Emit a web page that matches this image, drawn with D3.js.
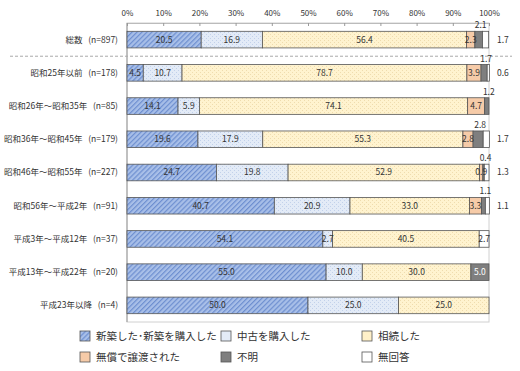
<!DOCTYPE html>
<html>
<head>
<meta charset="utf-8">
<script src="https://d3js.org/d3.v7.min.js"></script>
<style>
body { margin: 0; background: #fff; }
text { font-family: "Noto Sans CJK JP", "Noto Sans", sans-serif; fill: #333; }
</style>
</head>
<body>
<div id="chart"></div>
<script>
// categories and sample sizes
var categories = ["総数", "昭和25年以前", "昭和26年～昭和35年", "昭和36年～昭和45年", "昭和46年～昭和55年",
	"昭和56年～平成2年", "平成3年～平成12年", "平成13年～平成22年", "平成23年以降"];
var sampleN = [897, 178, 85, 179, 227, 91, 37, 20, 4];

var seriesNames = ["新築した･新築を購入した", "中古を購入した", "相続した", "無償で譲渡された", "不明", "無回答"];

// percentages, one array per series (same order as categories)
var shinchiku = [20.5, 4.5, 14.1, 19.6, 24.7, 40.7, 54.1, 55.0, 50.0];
var chuko     = [16.9, 10.7, 5.9, 17.9, 19.8, 20.9, 2.7, 10.0, 25.0];
var souzoku   = [56.4, 78.7, 74.1, 55.3, 52.9, 33.0, 40.5, 30.0, 25.0];
var musyou    = [2.3, 3.9, 4.7, 2.8, 0.9, 3.3, 0, 0, 0];
var fumei     = [2.1, 1.7, 1.2, 2.8, 0.4, 1.1, 0, 5.0, 0];
var mukaitou  = [1.7, 0.6, 0, 1.7, 1.3, 1.1, 2.7, 0, 0];

var ticks = [0, 10, 20, 30, 40, 50, 60, 70, 80, 90, 100];

var series = [shinchiku, chuko, souzoku, musyou, fumei, mukaitou];

var w = 520, h = 371;
var plotL = 127, plotR = 489, plotT = 23, plotB = 322;

var svg = d3.select("#chart").append("svg")
	.attr("width", w)
	.attr("height", h);

// patterns
var defs = svg.append("defs");
var hatch = defs.append("pattern").attr("id", "hatch")
	.attr("patternUnits", "userSpaceOnUse").attr("width", 3.5).attr("height", 3.5)
	.attr("patternTransform", "rotate(45)");
hatch.append("rect").attr("width", 3.5).attr("height", 3.5).attr("fill", "#a8bfe8");
hatch.append("rect").attr("width", 1.2).attr("height", 3.5).attr("fill", "#6e8fd0");

function dots(id, bg, dot) {
	var p = defs.append("pattern").attr("id", id)
		.attr("patternUnits", "userSpaceOnUse").attr("width", 4).attr("height", 4);
	p.append("rect").attr("width", 4).attr("height", 4).attr("fill", bg);
	p.append("rect").attr("x", 0).attr("y", 0).attr("width", 1).attr("height", 1).attr("fill", dot);
	p.append("rect").attr("x", 2).attr("y", 2).attr("width", 1).attr("height", 1).attr("fill", dot);
}
dots("dotBlue", "#e3ebf7", "#c2d1ea");
dots("dotYellow", "#fff3cf", "#efdcae");

var fills = ["url(#hatch)", "url(#dotBlue)", "url(#dotYellow)", "#f6cba8", "#7f7f7f", "#ffffff"];
var legendFills = ["url(#hatch)", "#e3ebf7", "#fff0c8", "#f6cba8", "#7f7f7f", "#ffffff"];

var x = d3.scaleLinear().domain([0, 100]).range([plotL, plotR]);
var y = d3.scaleBand().domain(categories).range([plotT, plotB]).paddingInner(0.5).paddingOuter(0.25);

// plot frame
svg.append("rect")
	.attr("x", plotL).attr("y", plotT)
	.attr("width", plotR - plotL).attr("height", plotB - plotT)
	.attr("fill", "none").attr("stroke", "#d0d0d0");

// top axis
var axis = svg.append("g")
	.attr("transform", "translate(0," + plotT + ")")
	.call(d3.axisTop(x).tickValues(ticks).tickFormat(function(d) { return d + "%"; }).tickSize(-3));
axis.select(".domain").attr("stroke", "#bbb");
axis.selectAll(".tick line").attr("stroke", "#999");
axis.selectAll("text").attr("font-size", 8).attr("dy", "-0.5em").attr("fill", "#333");

svg.append("line")
	.attr("x1", plotL).attr("x2", plotL).attr("y1", plotT).attr("y2", plotB)
	.attr("stroke", "#999");

// dashed separator between total and the rest
var sepY = (y(categories[0]) + y.bandwidth() + y(categories[1])) / 2;
svg.append("line")
	.attr("x1", 10).attr("x2", 512).attr("y1", sepY).attr("y2", sepY)
	.attr("stroke", "#aaa").attr("stroke-dasharray", "3,2");

// stack the rows
var rows = categories.map(function(c, i) {
	var acc = 0;
	return series.map(function(s, k) {
		var d = { cat: c, k: k, v: s[i], x0: acc, x1: acc + s[i] };
		acc += s[i];
		return d;
	});
});

var rowG = svg.selectAll(".row").data(rows).enter().append("g")
	.attr("class", "row");

rowG.selectAll("rect").data(function(d) { return d.filter(function(e) { return e.v > 0; }); })
	.enter().append("rect")
	.attr("x", function(d) { return x(d.x0); })
	.attr("y", function(d) { return y(d.cat); })
	.attr("width", function(d) { return x(d.x1) - x(d.x0); })
	.attr("height", y.bandwidth())
	.attr("fill", function(d) { return fills[d.k]; })
	.attr("stroke", "#555")
	.attr("stroke-width", 0.8);

// small 無回答 values go to the right of the plot, small 不明 values above the bar
function outside(d) { return d.k == 5 && d.v < 2; }
function above(d) { return d.k == 4 && d.v < 3; }

rowG.selectAll("text.val").data(function(d) { return d.filter(function(e) { return e.v > 0; }); })
	.enter().append("text")
	.attr("class", "val")
	.attr("font-size", 8.5)
	.attr("text-anchor", function(d) { return outside(d) ? "start" : "middle"; })
	.attr("x", function(d) {
		if (outside(d)) return x(100) + 8;
		if (above(d)) return x((d.x0 + d.x1) / 2) + 2;
		return x((d.x0 + d.x1) / 2);
	})
	.attr("y", function(d) {
		if (above(d)) return y(d.cat) - 3;
		return y(d.cat) + y.bandwidth() / 2;
	})
	.attr("dy", function(d) { return above(d) ? "0" : "0.35em"; })
	.style("fill", function(d) { return d.k == 4 && d.v >= 3 ? "#fff" : "#333"; })
	.text(function(d) { return d.v.toFixed(1); });

// category labels
svg.selectAll(".cat").data(categories).enter().append("text")
	.attr("class", "cat")
	.attr("x", 118)
	.attr("y", function(d) { return y(d) + y.bandwidth() / 2; })
	.attr("dy", "0.35em")
	.attr("text-anchor", "end")
	.attr("font-size", 8.5)
	.style("white-space", "pre")
	.text(function(d, i) { return d + "   (n=" + sampleN[i] + ")"; });

// legend
var legend = svg.selectAll(".leg").data(seriesNames).enter().append("g")
	.attr("class", "leg")
	.attr("transform", function(d, i) {
		return "translate(" + (80 + (i % 3) * 141) + "," + (331 + Math.floor(i / 3) * 21) + ")";
	});
legend.append("rect")
	.attr("width", 10).attr("height", 10)
	.attr("fill", function(d, i) { return legendFills[i]; })
	.attr("stroke", "#555").attr("stroke-width", 0.8);
legend.append("text")
	.attr("x", 16).attr("y", 5).attr("dy", "0.35em")
	.attr("font-size", 10.5)
	.text(function(d) { return d; });
</script>
</body>
</html>
